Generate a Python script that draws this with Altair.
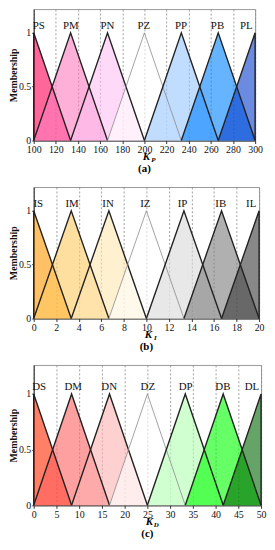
import altair as alt
import pandas as pd

# ---------------- data ----------------
# (a) K_P
a_names = ["PS", "PM", "PN", "PZ", "PP", "PB", "PL"]
a_left = [100, 100, 133.33, 166.67, 200, 233.33, 266.67]
a_peak = [100, 133.33, 166.67, 200, 233.33, 266.67, 300]
a_right = [133.33, 166.67, 200, 233.33, 266.67, 300, 300]
a_label_x = [104.5, 133.5, 166.5, 199.5, 233, 266, 292]
a_ticks = [100, 120, 140, 160, 180, 200, 220, 240, 260, 280, 300]

# (b) K_I
b_names = ["IS", "IM", "IN", "IZ", "IP", "IB", "IL"]
b_left = [0, 0, 3.33, 6.67, 10, 13.33, 16.67]
b_peak = [0, 3.33, 6.67, 10, 13.33, 16.67, 20]
b_right = [3.33, 6.67, 10, 13.33, 16.67, 20, 20]
b_label_x = [0.4, 3.4, 6.6, 9.9, 13.2, 16.6, 19.3]
b_ticks = [0, 2, 4, 6, 8, 10, 12, 14, 16, 18, 20]

# (c) K_D
c_names = ["DS", "DM", "DN", "DZ", "DP", "DB", "DL"]
c_left = [0, 0, 8.33, 16.67, 25, 33.33, 41.67]
c_peak = [0, 8.33, 16.67, 25, 33.33, 41.67, 50]
c_right = [8.33, 16.67, 25, 33.33, 41.67, 50, 50]
c_label_x = [1.2, 8.7, 16.6, 25.1, 33.4, 41.6, 48.0]
c_ticks = [0, 5, 10, 15, 20, 25, 30, 35, 40, 45, 50]

# ---------------- styles ----------------
a_colors = ["#ff0055", "#ff7bbe", "#ffc0f2", "#ffffff", "#96c5ff", "#0080ff", "#083ecb"]
b_colors = ["#ff9600", "#ffca61", "#ffe6b1", "#ffffff", "#d9d9d9", "#7b7b7b", "#393939"]
c_colors = ["#ff2b00", "#ff6161", "#ffb1b1", "#ffffff", "#b1ffb1", "#00ff00", "#006600"]

SERIF = "Liberation Serif"


def panel(names, left, peak, right, label_x, ticks, colors, ymax, w, h, sub, cap):
    rows = []
    for n, l, p, r in zip(names, left, peak, right):
        rows.append({"set": n, "i": 0, "x": l, "y": 0})
        rows.append({"set": n, "i": 1, "x": p, "y": 1})
        rows.append({"set": n, "i": 2, "x": r, "y": 0})
    df = pd.DataFrame(rows)
    xs = alt.Scale(domain=[ticks[0], ticks[-1]], nice=False, zero=False)
    ys = alt.Scale(domain=[0, ymax], nice=False)
    xax = alt.Axis(values=ticks, grid=True, gridDash=[2, 2], gridColor="#888888",
                   gridWidth=0.8, title=None, labelFlush=False, labelOverlap=False,
                   tickSize=3, labelPadding=1)
    yax = alt.Axis(values=[0, 0.5, 1], grid=False, title="Membership",
                   labelExpr="'' + datum.value", tickSize=2, labelPadding=1,
                   titlePadding=0)
    X = alt.X("x:Q", scale=xs, axis=xax)
    Y = alt.Y("y:Q", scale=ys, axis=yax, stack=None)
    layers = []
    for k, n in enumerate(names):
        sub_df = df[df["set"] == n].reset_index(drop=True)
        ch = alt.Chart(sub_df).mark_area(fillOpacity=0.6, fill=colors[k], line=False).encode(
            x=X, y=Y, y2=alt.datum(0),
        )
        layers.append(ch)
    zname = names[3]
    lines = alt.Chart(df).mark_line().encode(
        x=X, y=Y, detail="set:N", order="i:Q",
        stroke=alt.condition(alt.datum.set == zname, alt.value("#8a8a8a"), alt.value("#222222")),
        strokeWidth=alt.condition(alt.datum.set == zname, alt.value(0.8), alt.value(1.4)),
    )
    ldf = pd.DataFrame({"name": names, "lx": label_x, "ly": [1.065] * len(names)})
    labels = alt.Chart(ldf).mark_text(font=SERIF, fontSize=11, color="#111111").encode(
        x=alt.X("lx:Q", scale=xs, axis=xax), y=alt.Y("ly:Q", scale=ys, axis=yax),
        text="name:N"
    )
    one = pd.DataFrame({"k": [0]})
    ktxt = alt.Chart(one).mark_text(font=SERIF, fontSize=11, fontWeight="bold",
                                    fontStyle="italic", text="K", dx=-2).encode(
        x=alt.value(w / 2 + 4), y=alt.value(h + 17))
    stxt = alt.Chart(one).mark_text(font=SERIF, fontSize=7, fontWeight="bold",
                                    fontStyle="italic", text=sub, dx=5, dy=3).encode(
        x=alt.value(w / 2 + 4), y=alt.value(h + 17))
    return alt.layer(*layers, lines, labels, ktxt, stxt).properties(
        width=w, height=h,
        title=alt.TitleParams(cap, orient="bottom", font=SERIF, fontSize=11,
                              fontWeight="bold", offset=0, frame="group"),
    )


pa = panel(a_names, a_left, a_peak, a_right, a_label_x, a_ticks, a_colors, 1.22, 224, 133, "P", "(a)")
pb = panel(b_names, b_left, b_peak, b_right, b_label_x, b_ticks, b_colors, 1.22, 228, 133, "I", "(b)")
pc = panel(c_names, c_left, c_peak, c_right, c_label_x, c_ticks, c_colors, 1.26, 230, 142, "D", "(c)")

chart = alt.vconcat(pa, pb, pc, spacing=11).properties(
    padding={"left": 0, "top": -3, "right": 0, "bottom": 0}
).configure_view(stroke="#999999", strokeWidth=1).configure_axis(
    labelFont=SERIF, labelFontSize=10, labelColor="#111111",
    titleFont=SERIF, titleFontSize=10, titleFontWeight="bold", titleColor="#111111",
    domainColor="#333333", tickColor="#333333",
)

chart.save("out.html", embed_options={"renderer": "svg", "actions": False})
